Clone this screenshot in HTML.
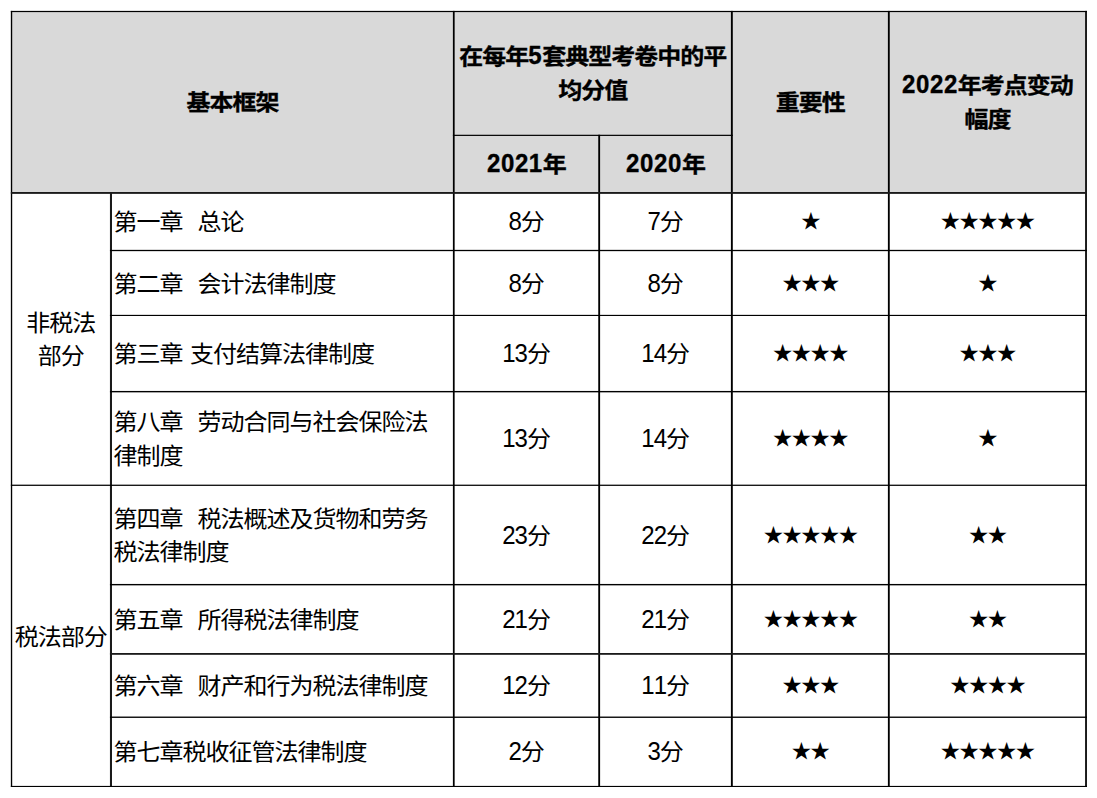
<!DOCTYPE html>
<html lang="zh-CN"><head><meta charset="utf-8"><title>基本框架</title>
<style>
html,body{margin:0;padding:0;background:#fff}
body{width:1097px;height:798px;position:relative;overflow:hidden;font-family:"Liberation Sans","Noto Sans CJK SC",sans-serif;font-size:24px;letter-spacing:-1px;word-spacing:1.85px;line-height:34.5px;color:#000}
svg{position:absolute;left:0;top:0}
.c{position:absolute;display:flex;align-items:center;justify-content:center;text-align:center;box-sizing:border-box;white-space:nowrap}
.c.l{justify-content:flex-start;text-align:left;padding-left:1.5px}
.c>span{display:inline-block;transform:translate(-0.3px,1.2px) scaleY(0.965);transform-origin:50% 50%}
.c.l>span{transform:translate(-0.1px,1.2px) scaleY(0.965)}
.c.h{font-weight:bold;line-height:37.3px;-webkit-text-stroke:0.35px #000}
.c.h>span{transform:translate(0px,1px) scaleY(0.92)}
.c.s>span{transform:none}
.n{display:inline-block;line-height:1;font-kerning:none;transform:scaleY(1.09);transform-origin:50% 85%}
.h .n{letter-spacing:0.6px;transform:scaleY(1.2)}
.c.s{font-size:19.8px;letter-spacing:-1.0px}
</style></head><body>
<svg width="1097" height="798" viewBox="0 0 1097 798">
<rect x="10.85" y="10.90" width="1076.15" height="182.95" fill="#d9d9d9"/>
<rect x="10.85" y="10.90" width="1.35" height="776.10" fill="#000"/>
<rect x="109.95" y="192.00" width="2.05" height="595.00" fill="#1a1a1a"/>
<rect x="452.90" y="10.90" width="1.75" height="776.10" fill="#000"/>
<rect x="598.25" y="134.75" width="1.85" height="652.25" fill="#000"/>
<rect x="730.90" y="10.90" width="1.90" height="776.10" fill="#000"/>
<rect x="887.90" y="10.90" width="1.85" height="776.10" fill="#000"/>
<rect x="1085.05" y="10.90" width="1.95" height="776.10" fill="#1a1a1a"/>
<rect x="10.85" y="10.90" width="1076.15" height="1.20" fill="#000"/>
<rect x="452.90" y="134.75" width="279.90" height="1.20" fill="#000"/>
<rect x="10.85" y="192.00" width="1076.15" height="1.85" fill="#1a1a1a"/>
<rect x="109.95" y="249.85" width="977.05" height="1.30" fill="#000"/>
<rect x="109.95" y="314.85" width="977.05" height="1.15" fill="#000"/>
<rect x="109.95" y="390.95" width="977.05" height="1.40" fill="#000"/>
<rect x="109.95" y="583.95" width="977.05" height="1.40" fill="#000"/>
<rect x="109.95" y="653.00" width="977.05" height="1.80" fill="#1a1a1a"/>
<rect x="109.95" y="716.55" width="977.05" height="1.35" fill="#000"/>
<rect x="10.85" y="484.65" width="1076.15" height="1.25" fill="#000"/>
<rect x="10.85" y="785.90" width="1076.15" height="1.10" fill="#000"/>
</svg>
<div class="c h" style="left:12.2px;top:12.1px;width:440.7px;height:179.9px"><span>基本框架</span></div>
<div class="c h" style="left:454.6px;top:11.1px;width:276.2px;height:122.7px"><span>在每年<span class="n">5</span>套典型考卷中的平<br>均分值</span></div>
<div class="c h" style="left:454.6px;top:135.9px;width:143.6px;height:56.1px"><span><span class="n">2021</span>年</span></div>
<div class="c h" style="left:600.1px;top:135.9px;width:130.8px;height:56.1px"><span><span class="n">2020</span>年</span></div>
<div class="c h" style="left:732.8px;top:12.1px;width:155.1px;height:179.9px"><span>重要性</span></div>
<div class="c h" style="left:889.8px;top:11.1px;width:195.3px;height:179.9px"><span><span class="n">2022</span>年考点变动<br>幅度</span></div>
<div class="c " style="left:12.2px;top:193.2px;width:97.8px;height:290.8px"><span>非税法<br>部分</span></div>
<div class="c " style="left:12.2px;top:485.9px;width:97.8px;height:300.0px"><span>税法部分</span></div>
<div class="c l" style="left:112.0px;top:192.8px;width:340.9px;height:56.0px"><span>第一章&nbsp; 总论</span></div>
<div class="c " style="left:454.6px;top:192.8px;width:143.6px;height:56.0px"><span><span class="n">8</span>分</span></div>
<div class="c " style="left:600.1px;top:192.8px;width:130.8px;height:56.0px"><span><span class="n">7</span>分</span></div>
<div class="c s" style="left:732.8px;top:192.8px;width:155.1px;height:56.0px"><span>★</span></div>
<div class="c s" style="left:889.8px;top:192.8px;width:195.3px;height:56.0px"><span>★★★★★</span></div>
<div class="c l" style="left:112.0px;top:251.2px;width:340.9px;height:63.7px"><span>第二章&nbsp; 会计法律制度</span></div>
<div class="c " style="left:454.6px;top:251.2px;width:143.6px;height:63.7px"><span><span class="n">8</span>分</span></div>
<div class="c " style="left:600.1px;top:251.2px;width:130.8px;height:63.7px"><span><span class="n">8</span>分</span></div>
<div class="c s" style="left:732.8px;top:251.2px;width:155.1px;height:63.7px"><span>★★★</span></div>
<div class="c s" style="left:889.8px;top:251.2px;width:195.3px;height:63.7px"><span>★</span></div>
<div class="c l" style="left:112.0px;top:316.0px;width:340.9px;height:74.9px"><span>第三章 支付结算法律制度</span></div>
<div class="c " style="left:454.6px;top:316.0px;width:143.6px;height:74.9px"><span><span class="n">13</span>分</span></div>
<div class="c " style="left:600.1px;top:316.0px;width:130.8px;height:74.9px"><span><span class="n">14</span>分</span></div>
<div class="c s" style="left:732.8px;top:316.0px;width:155.1px;height:74.9px"><span>★★★★</span></div>
<div class="c s" style="left:889.8px;top:316.0px;width:195.3px;height:74.9px"><span>★★★</span></div>
<div class="c l" style="left:112.0px;top:404.0px;width:340.9px;height:34.0px"><span>第八章&nbsp; 劳动合同与社会保险法</span></div>
<div class="c l" style="left:112.0px;top:438.3px;width:340.9px;height:34.0px"><span>律制度</span></div>
<div class="c " style="left:454.6px;top:392.4px;width:143.6px;height:92.3px"><span><span class="n">13</span>分</span></div>
<div class="c " style="left:600.1px;top:392.4px;width:130.8px;height:92.3px"><span><span class="n">14</span>分</span></div>
<div class="c s" style="left:732.8px;top:392.4px;width:155.1px;height:92.3px"><span>★★★★</span></div>
<div class="c s" style="left:889.8px;top:392.4px;width:195.3px;height:92.3px"><span>★</span></div>
<div class="c l" style="left:112.0px;top:501.4px;width:340.9px;height:34.0px"><span>第四章&nbsp; 税法概述及货物和劳务</span></div>
<div class="c l" style="left:112.0px;top:533.9px;width:340.9px;height:34.0px"><span>税法律制度</span></div>
<div class="c " style="left:454.6px;top:485.9px;width:143.6px;height:98.1px"><span><span class="n">23</span>分</span></div>
<div class="c " style="left:600.1px;top:485.9px;width:130.8px;height:98.1px"><span><span class="n">22</span>分</span></div>
<div class="c s" style="left:732.8px;top:485.9px;width:155.1px;height:98.1px"><span>★★★★★</span></div>
<div class="c s" style="left:889.8px;top:485.9px;width:195.3px;height:98.1px"><span>★★</span></div>
<div class="c l" style="left:112.0px;top:585.4px;width:340.9px;height:67.6px"><span>第五章&nbsp; 所得税法律制度</span></div>
<div class="c " style="left:454.6px;top:585.4px;width:143.6px;height:67.6px"><span><span class="n">21</span>分</span></div>
<div class="c " style="left:600.1px;top:585.4px;width:130.8px;height:67.6px"><span><span class="n">21</span>分</span></div>
<div class="c s" style="left:732.8px;top:585.4px;width:155.1px;height:67.6px"><span>★★★★★</span></div>
<div class="c s" style="left:889.8px;top:585.4px;width:195.3px;height:67.6px"><span>★★</span></div>
<div class="c l" style="left:112.0px;top:654.8px;width:340.9px;height:61.8px"><span>第六章&nbsp; 财产和行为税法律制度</span></div>
<div class="c " style="left:454.6px;top:654.8px;width:143.6px;height:61.8px"><span><span class="n">12</span>分</span></div>
<div class="c " style="left:600.1px;top:654.8px;width:130.8px;height:61.8px"><span><span class="n">11</span>分</span></div>
<div class="c s" style="left:732.8px;top:654.8px;width:155.1px;height:61.8px"><span>★★★</span></div>
<div class="c s" style="left:889.8px;top:654.8px;width:195.3px;height:61.8px"><span>★★★★</span></div>
<div class="c l" style="left:112.0px;top:716.9px;width:340.9px;height:68.0px"><span>第七章税收征管法律制度</span></div>
<div class="c " style="left:454.6px;top:716.9px;width:143.6px;height:68.0px"><span><span class="n">2</span>分</span></div>
<div class="c " style="left:600.1px;top:716.9px;width:130.8px;height:68.0px"><span><span class="n">3</span>分</span></div>
<div class="c s" style="left:732.8px;top:716.9px;width:155.1px;height:68.0px"><span>★★</span></div>
<div class="c s" style="left:889.8px;top:716.9px;width:195.3px;height:68.0px"><span>★★★★★</span></div>
</body></html>
